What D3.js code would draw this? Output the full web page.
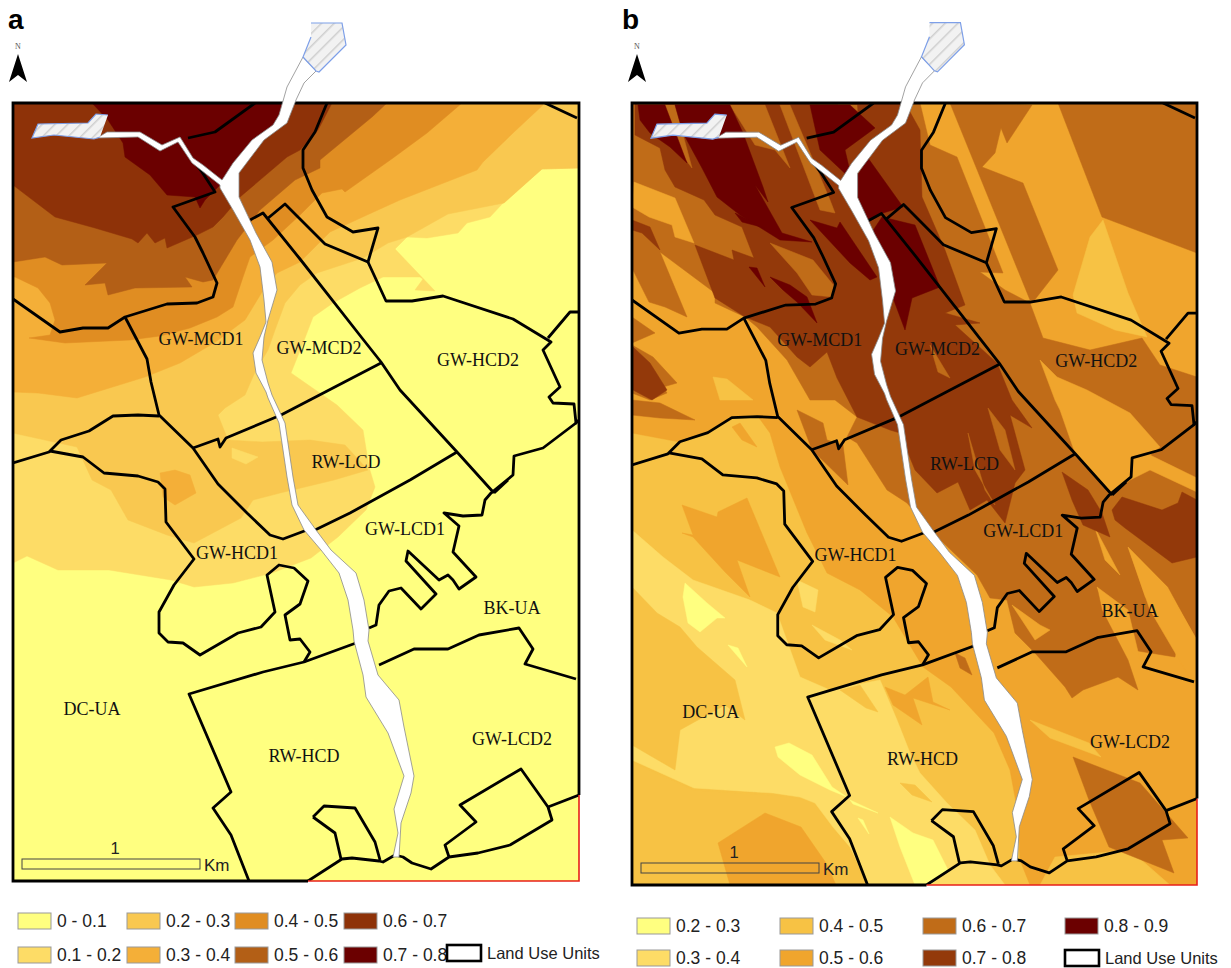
<!DOCTYPE html>
<html>
<head>
<meta charset="utf-8">
<script src="https://cdnjs.cloudflare.com/ajax/libs/d3/7.8.5/d3.min.js"></script>
<style>
  html, body { margin: 0; background: #fff; }
  .unit-label { font-family: "Liberation Serif", serif; font-size: 18px; fill: #111; text-anchor: middle; }
  .legend-text { font-family: "Liberation Sans", sans-serif; font-size: 17.5px; fill: #222; }
</style>
</head>
<body>
<div id="chart"></div>
<script>
// class labels, low to high
const classesA = ["0 - 0.1", "0.1 - 0.2", "0.2 - 0.3", "0.3 - 0.4", "0.4 - 0.5", "0.5 - 0.6", "0.6 - 0.7", "0.7 - 0.8"];
const coloursA = ["#ffff80", "#fddc66", "#f9c850", "#f4af38", "#e08d22", "#b35f16", "#8e3208", "#6b0000"];
const classesB = ["0.2 - 0.3", "0.3 - 0.4", "0.4 - 0.5", "0.5 - 0.6", "0.6 - 0.7", "0.7 - 0.8", "0.8 - 0.9"];
const coloursB = ["#ffff80", "#fddc66", "#f7c244", "#f0a52d", "#c06c18", "#93390a", "#6b0000"];

// map a: nested class areas, painted low to high
const bandsA = [
  ["0.1 - 0.2", [[579,168],[542,169],[504,202],[490,217],[467,223],[458,233],[427,238],[407,237],[395,249],[435,291],[415,290],[423,279],[420,277],[383,277],[360,288],[333,303],[313,317],[305,338],[291,373],[337,405],[363,430],[369,467],[375,487],[366,510],[338,537],[311,558],[272,573],[233,583],[194,587],[171,580],[109,570],[58,570],[27,556],[13,563],[13,103],[579,103]]],
  ["0.2 - 0.3", [[579,168],[542,169],[504,203],[448,214],[407,237],[388,243],[363,258],[317,273],[300,285],[285,303],[275,330],[268,350],[255,372],[245,395],[225,408],[218,415],[228,440],[262,442],[310,440],[345,445],[368,470],[334,480],[280,493],[253,500],[241,518],[194,543],[167,535],[128,520],[111,490],[92,480],[77,447],[13,433],[13,103],[579,103]]],
  ["0.1 - 0.2", [[232,448],[258,457],[246,464],[232,458]]],
  ["0.3 - 0.4", [[543,105],[513,133],[483,162],[477,170],[400,200],[367,215],[330,232],[300,262],[277,273],[262,292],[245,320],[214,343],[180,363],[145,377],[77,398],[38,393],[13,392],[13,103],[543,103]]],
  ["0.3 - 0.4", [[160,473],[175,470],[190,475],[196,493],[175,505],[163,497]]],
  ["0.4 - 0.5", [[462,103],[427,133],[393,158],[345,192],[342,189],[322,193],[300,215],[273,240],[250,257],[243,277],[233,307],[217,317],[190,328],[160,336],[130,340],[65,343],[29,338],[50,335],[55,320],[50,303],[38,288],[15,277],[13,277],[13,103]]],
  ["0.5 - 0.6", [[387,103],[372,117],[320,160],[320,168],[295,180],[260,210],[237,240],[213,280],[203,282],[185,277],[192,287],[135,288],[108,295],[105,283],[85,285],[107,263],[62,265],[45,257],[13,262],[13,103]]],
  ["0.6 - 0.7", [[332,103],[318,130],[300,150],[287,157],[240,197],[223,217],[213,227],[197,235],[167,248],[165,238],[155,243],[147,233],[138,243],[132,239],[95,228],[55,217],[13,185],[13,103]]],
  ["0.7 - 0.8", [[92,103],[108,120],[123,143],[125,157],[150,175],[167,195],[195,197],[200,208],[205,200],[220,185],[240,165],[275,125],[283,103]]]
];

// map b: same idea, but the classes overlap in long diagonal streaks
const bandsB = [
  ["0.4 - 0.5", [[632,103],[1197,103],[1197,885],[632,885]]],
  ["0.5 - 0.6", [[632,103],[1197,103],[1197,885],[1030,885],[1020,860],[1018,813],[1010,770],[994,733],[951,687],[923,667],[893,617],[860,590],[827,573],[807,533],[780,467],[770,433],[757,415],[730,417],[710,430],[680,442],[632,433]]],
  ["0.3 - 0.4", [[632,530],[663,557],[693,580],[750,600],[777,613],[800,677],[830,690],[880,680],[897,720],[910,753],[920,773],[947,803],[975,830],[990,865],[1005,885],[868,885],[850,847],[833,827],[815,803],[800,797],[773,793],[694,788],[632,760]]],
  ["0.4 - 0.5", [[632,587],[657,613],[680,627],[697,647],[735,680],[745,720],[725,705],[680,730],[675,770],[632,745]]],
  ["0.4 - 0.5", [[632,762],[694,790],[773,795],[800,799],[815,805],[833,829],[850,849],[866,885],[632,885]]],
  ["0.4 - 0.5", [[1055,857],[1130,850],[1170,885],[1040,885]]],
  ["0.4 - 0.5", [[1030,720],[1089,743],[1101,757],[1050,738]]],
  ["0.4 - 0.5", [[900,783],[915,785],[932,802],[912,795]]],
  ["0.4 - 0.5", [[840,690],[860,685],[878,712],[866,708]]],
  ["0.5 - 0.6", [[682,505],[717,517],[718,512],[747,498],[780,577],[737,560],[750,597],[725,572],[693,537],[682,533],[693,535]]],
  ["0.5 - 0.6", [[718,843],[765,813],[801,827],[826,863],[836,885],[730,885]]],
  ["0.5 - 0.6", [[885,687],[905,695],[928,677],[933,702],[950,710],[913,698],[922,725],[893,705]]],
  ["0.5 - 0.6", [[732,427],[740,423],[757,447],[742,440]]],
  ["0.3 - 0.4", [[797,580],[818,590],[815,612],[803,607]]],
  ["0.3 - 0.4", [[812,625],[840,640],[852,650],[825,640]]],
  ["0.2 - 0.3", [[685,583],[683,597],[688,623],[700,632],[717,618],[725,618],[707,603]]],
  ["0.2 - 0.3", [[728,645],[738,648],[747,667]]],
  ["0.2 - 0.3", [[775,747],[789,743],[812,755],[832,787],[847,797],[830,790],[800,775],[778,757]]],
  ["0.2 - 0.3", [[890,817],[913,833],[933,840],[948,870],[930,885],[915,885],[900,847]]],
  ["0.2 - 0.3", [[850,800],[878,813],[853,804]]],
  ["0.2 - 0.3", [[858,818],[863,820],[869,834]]],
  ["0.6 - 0.7", [[632,103],[920,103],[930,145],[957,157],[1003,273],[980,272],[1005,290],[1030,303],[1043,338],[1090,350],[1142,338],[1160,365],[1197,377],[1197,640],[1168,587],[1128,547],[1145,597],[1180,620],[1175,657],[1132,650],[1122,613],[1097,587],[1102,610],[1128,660],[1138,690],[1118,677],[1083,690],[1072,698],[1065,687],[1035,653],[1015,633],[1007,600],[990,598],[977,575],[932,532],[907,503],[887,490],[857,443],[847,437],[857,417],[835,400],[810,400],[787,360],[757,327],[745,317],[715,303],[715,293],[660,252],[687,317],[665,307],[649,302],[632,268]]],
  ["0.6 - 0.7", [[950,103],[1032,105],[1007,143],[1001,128],[995,153],[982,167],[1023,183],[1058,270],[1033,302],[1030,300]]],
  ["0.6 - 0.7", [[1058,103],[1197,103],[1197,253],[1102,217]]],
  ["0.6 - 0.7", [[632,317],[655,333],[632,343]]],
  ["0.6 - 0.7", [[632,345],[653,357],[677,383],[663,387],[667,393],[650,400],[632,393]]],
  ["0.6 - 0.7", [[632,400],[660,403],[695,420],[660,418],[632,415]]],
  ["0.6 - 0.7", [[797,410],[823,423],[827,440],[843,445],[848,485],[812,450]]],
  ["0.6 - 0.7", [[1073,757],[1140,783],[1188,838],[1162,840],[1174,873],[1109,847],[1089,800]]],
  ["0.6 - 0.7", [[955,653],[965,658],[972,675],[960,668]]],
  ["0.5 - 0.6", [[634,182],[675,198],[694,243],[675,237],[672,225],[649,217],[632,207]]],
  ["0.5 - 0.6", [[1040,360],[1057,377],[1087,390],[1130,413],[1160,447],[1150,455],[1197,478],[1197,492],[1150,470],[1130,480],[1112,493],[1075,453],[1060,410],[1055,400]]],
  ["0.5 - 0.6", [[1097,587],[1128,610],[1140,660],[1120,640]]],
  ["0.5 - 0.6", [[1128,547],[1165,585],[1197,640],[1197,690],[1150,610]]],
  ["0.5 - 0.6", [[1095,528],[1120,575],[1105,560]]],
  ["0.5 - 0.6", [[1012,605],[1040,625],[1050,630],[1035,640]]],
  ["0.4 - 0.5", [[1103,220],[1090,237],[1073,295],[1077,313],[1115,330],[1147,337],[1128,293]]],
  ["0.4 - 0.5", [[713,377],[727,379],[753,400],[720,400]]],
  ["0.7 - 0.8", [[635,103],[905,103],[920,130],[922,197],[945,250],[965,305],[945,313],[980,323],[955,325],[997,363],[1012,400],[1032,428],[1010,415],[1025,470],[1015,483],[1005,523],[987,500],[970,510],[958,482],[937,493],[915,470],[900,433],[890,430],[857,417],[837,378],[827,352],[810,367],[797,357],[770,327],[745,317],[715,298],[695,245],[734,260],[732,250],[754,258],[742,227],[715,215],[704,200],[675,187],[665,170],[660,148],[635,135]]],
  ["0.7 - 0.8", [[633,347],[650,363],[667,390],[652,400],[633,390]]],
  ["0.7 - 0.8", [[632,220],[650,227],[660,250],[642,233],[632,230]]],
  ["0.7 - 0.8", [[1062,472],[1088,490],[1102,513],[1110,537],[1083,525],[1072,500]]],
  ["0.7 - 0.8", [[1112,510],[1122,497],[1162,510],[1178,503],[1182,492],[1197,500],[1197,557],[1172,563],[1125,528],[1115,520]]],
  ["0.6 - 0.7", [[770,243],[813,260],[835,287],[833,297],[812,295],[797,273]]],
  ["0.6 - 0.7", [[665,105],[675,105],[692,168],[673,143]]],
  ["0.6 - 0.7", [[730,105],[765,105],[790,168],[775,150],[755,145]]],
  ["0.6 - 0.7", [[780,105],[790,105],[830,200],[835,213],[820,210]]],
  ["0.6 - 0.7", [[838,105],[857,105],[858,125]]],
  ["0.6 - 0.7", [[968,433],[985,490],[995,505],[975,470]]],
  ["0.6 - 0.7", [[988,408],[1005,430],[1015,470],[1000,450]]],
  ["0.6 - 0.7", [[930,345],[950,378],[938,372]]],
  ["0.8 - 0.9", [[638,105],[665,105],[687,163],[670,147],[650,133],[640,120]]],
  ["0.8 - 0.9", [[675,105],[730,105],[743,133],[763,187],[768,202],[755,185],[782,233],[812,242],[780,240],[740,215],[717,197],[702,168],[683,133]]],
  ["0.8 - 0.9", [[810,105],[850,105],[875,128],[845,150],[852,180],[820,150]]],
  ["0.8 - 0.9", [[868,158],[903,207],[883,213],[867,223],[853,183]]],
  ["0.8 - 0.9", [[882,217],[915,225],[940,287],[912,298],[905,330],[890,290],[875,250],[870,235]]],
  ["0.8 - 0.9", [[810,220],[837,228],[840,222],[877,277],[870,280],[850,263]]],
  ["0.8 - 0.9", [[749,267],[757,268],[765,287]]],
  ["0.8 - 0.9", [[770,277],[790,285],[807,297],[817,323],[797,302],[783,290]]],
  ["0.8 - 0.9", [[735,213],[765,228],[742,222]]]
];

// land use unit boundaries, in map a coordinates
const landLines = [
  [[13,299],[60,332],[83,328],[108,328],[125,317],[167,304],[197,303],[213,297],[217,283],[203,253],[195,237],[173,207],[215,192],[202,172],[195,163]],
  [[188,138],[215,132],[255,103]],
  [[327,103],[315,132],[303,150],[303,168],[312,190],[327,217],[353,232],[378,228],[368,262],[325,244],[300,219],[285,204],[267,219]],
  [[250,220],[263,213],[300,259],[362,338],[381,362],[400,390],[457,452],[494,493]],
  [[281,415],[381,363]],
  [[281,415],[226,438],[220,447],[218,439],[193,448]],
  [[125,317],[147,359],[151,382],[159,415],[193,448],[218,484],[247,513],[270,535],[283,539],[307,530]],
  [[315,530],[350,513],[410,480],[457,452]],
  [[13,463],[49,452],[61,440],[89,431],[113,416],[138,415],[159,416]],
  [[50,451],[83,457],[104,473],[138,476],[158,482],[165,489],[166,522],[194,559],[174,585],[159,612],[159,633],[168,642],[183,643],[200,655],[238,633],[261,627],[275,612],[267,575],[279,565],[294,568],[308,581],[300,604],[285,615],[290,640],[300,639],[310,652],[304,662]],
  [[356,643],[304,662],[263,672],[189,694],[231,792],[213,808],[231,835],[249,881]],
  [[308,881],[342,859],[352,858],[379,861],[383,862],[395,855],[403,857],[412,863],[431,869],[449,857],[445,845],[476,822],[460,805],[521,769],[548,807],[552,820],[510,845],[478,853],[449,857]],
  [[548,807],[579,795]],
  [[313,817],[324,806],[355,808],[375,842],[380,860]],
  [[313,817],[335,833],[341,859]],
  [[379,665],[414,649],[448,649],[479,635],[519,628],[533,649],[525,664],[576,679]],
  [[369,628],[376,625],[379,605],[389,591],[401,588],[421,609],[436,594],[406,561],[408,551],[439,580],[448,575],[453,580],[459,589],[476,577],[453,552],[459,526],[444,513],[463,516],[482,515],[485,500],[491,493],[513,475],[514,456],[543,448],[576,423]],
  [[368,262],[386,301],[412,301],[443,296],[513,319],[551,342],[543,350],[560,387],[549,397],[553,403],[574,404],[576,423],[579,420]],
  [[548,338],[570,312],[579,312]],
  [[545,103],[577,118]],
  [[508,480],[494,493]]
];

const riverBank = [[303,57],[287,87],[279,115],[273,125],[252,140],[233,163],[224,177],[222,180],[203,165],[193,158],[180,137],[162,145],[140,132],[107,132],[97,138],[138,137],[160,151],[178,142],[192,163],[220,185],[220,188],[233,210],[250,240],[260,267],[264,300],[266,322],[260,337],[253,353],[256,373],[266,392],[268,398],[279,423],[287,477],[292,505],[304,530],[321,550],[339,573],[348,600],[353,630],[354,641],[363,675],[366,697],[388,733],[404,776],[394,809],[398,833],[393,857],[399,857],[401,823],[411,793],[414,776],[404,727],[399,700],[378,675],[368,641],[369,630],[364,600],[356,573],[331,550],[316,530],[298,505],[293,477],[285,423],[272,395],[268,383],[262,360],[264,337],[268,320],[277,290],[272,262],[256,233],[239,197],[239,173],[264,140],[287,123],[296,100],[304,83],[316,71]];
const lakeNorth = [[311,23],[342,23],[346,45],[319,72],[316,71],[303,57],[311,37]];
const lakeWest = [[108,115],[96,114],[88,123],[38,124],[32,138],[54,135],[94,139],[100,137]];

const unitNames = ["GW-MCD1", "GW-MCD2", "GW-HCD2", "RW-LCD", "GW-LCD1", "GW-HCD1", "BK-UA", "DC-UA", "RW-HCD", "GW-LCD2"];
const unitX = [201, 319, 478, 346, 405, 237, 512, 92, 304, 512];
const unitY = [345, 354, 366, 468, 535, 559, 614, 715, 762, 745];

const width = 1231, height = 968;
const svg = d3.select("#chart").append("svg").attr("width", width).attr("height", height);

const defs = svg.append("defs");
const hatch = defs.append("pattern").attr("id", "hatch").attr("patternUnits", "userSpaceOnUse")
    .attr("width", 9).attr("height", 9).attr("patternTransform", "rotate(45)");
hatch.append("rect").attr("width", 9).attr("height", 9).attr("fill", "#f2f2f2");
hatch.append("line").attr("x1", 0).attr("x2", 0).attr("y1", 0).attr("y2", 9).attr("stroke", "#cfcfcf").attr("stroke-width", 3);

function drawMap(cfg) {
  const g = svg.append("g");
  // land units and river are stored in map a coordinates
  const x = d3.scaleLinear().domain([13, 579]).range(cfg.xRange);
  const y = d3.scaleLinear().domain([103, 881]).range(cfg.yRange);
  // class areas are stored in the panel's own coordinates
  const bx = d3.scaleLinear().domain(cfg.bandDomainX).range(cfg.xRange);
  const by = d3.scaleLinear().domain(cfg.bandDomainY).range(cfg.yRange);
  const colour = d3.scaleOrdinal().domain(cfg.classes).range(cfg.colours);
  const line = d3.line().x(d => x(d[0])).y(d => y(d[1]));
  const bandLine = d3.line().x(d => bx(d[0])).y(d => by(d[1]));

  const clipId = "clip-" + cfg.id;
  defs.append("clipPath").attr("id", clipId).append("rect")
      .attr("x", x(13)).attr("y", y(103)).attr("width", x(579) - x(13)).attr("height", y(881) - y(103));

  const mapG = g.append("g").attr("clip-path", `url(#${clipId})`);
  mapG.append("rect").attr("x", x(13)).attr("y", y(103)).attr("width", x(579) - x(13)).attr("height", y(881) - y(103))
      .attr("fill", cfg.colours[0]);

  mapG.selectAll(".band").data(cfg.bands).join("path")
      .attr("class", "band")
      .attr("d", d => bandLine(d[1]) + "Z")
      .attr("fill", d => colour(d[0]))
      .attr("stroke", d => colour(d[0]))
      .attr("stroke-width", 0.5);

  // land use units first, river goes on top
  mapG.selectAll(".unit").data(landLines).join("path")
      .attr("class", "unit")
      .attr("d", line)
      .attr("fill", "none")
      .attr("stroke", "#000")
      .attr("stroke-width", 2.8)
      .attr("stroke-linejoin", "round");

  // frame
  const right = x(579), left = x(13), top = y(103), bottom = y(881);
  g.append("path").attr("d", `M${x(308)},${bottom}H${right}V${y(795)}`)
      .attr("fill", "none").attr("stroke", "#e8201a").attr("stroke-width", 1.6);
  g.append("path").attr("d", `M${x(308)},${bottom}H${left}V${top}H${right}V${y(795)}`)
      .attr("fill", "none").attr("stroke", "#000").attr("stroke-width", 2.8);

  g.append("path").attr("d", line(riverBank) + "Z")
      .attr("fill", "#fff").attr("stroke", "#8a8a8a").attr("stroke-width", 0.8);

  [lakeNorth, lakeWest].forEach(lake => {
    g.append("path").attr("d", line(lake) + "Z").attr("fill", "url(#hatch)");
    g.append("path").attr("d", line(lake)).attr("fill", "none").attr("stroke", "#7d9fe8").attr("stroke-width", 1.2);
  });

  // unit names
  g.selectAll(".unit-label").data(unitNames).join("text")
      .attr("class", "unit-label")
      .attr("x", (d, i) => x(unitX[i]))
      .attr("y", (d, i) => y(unitY[i]))
      .text(d => d);

  // panel letter and north arrow
  g.append("text").attr("x", cfg.letterX).attr("y", 29)
      .attr("font-family", "Liberation Sans, sans-serif").attr("font-weight", "bold").attr("font-size", 28)
      .text(cfg.id);
  g.append("text").attr("x", cfg.northX).attr("y", 49).attr("text-anchor", "middle")
      .attr("font-family", "Liberation Serif, serif").attr("font-size", 8).attr("fill", "#555").text("N");
  g.append("path").attr("fill", "#000")
      .attr("d", d3.line()([[cfg.northX, 54], [cfg.northX + 9, 82], [cfg.northX, 75], [cfg.northX - 9, 82]]) + "Z");

  // scale bar
  const bar = cfg.bar;
  g.append("rect").attr("x", bar.x).attr("y", bar.y).attr("width", bar.w).attr("height", 10)
      .attr("fill", "none").attr("stroke", "#444").attr("stroke-width", 1);
  g.append("text").attr("class", "legend-text").attr("x", bar.x + bar.w / 2 + 4).attr("y", bar.y - 5)
      .attr("text-anchor", "middle").style("font-size", "16.5px").text("1");
  g.append("text").attr("class", "legend-text").attr("x", bar.x + bar.w + 4).attr("y", bar.y + 12).style("font-size", "17px").text("Km");

  // legend
  const leg = cfg.legend;
  const items = g.selectAll(".leg").data(cfg.classes).join("g").attr("class", "leg")
      .attr("transform", (d, i) => `translate(${leg.cols[Math.floor(i / 2)]},${leg.rows[i % 2]})`);
  items.append("rect").attr("width", 33).attr("height", 16)
      .attr("fill", d => colour(d)).attr("stroke", "#999").attr("stroke-width", 1);
  items.append("text").attr("class", "legend-text").attr("x", 39).attr("y", 14).text(d => d);

  g.append("rect").attr("x", leg.unitX).attr("y", leg.unitY).attr("width", 34).attr("height", 16)
      .attr("fill", "#fff").attr("stroke", "#000").attr("stroke-width", 2.6);
  g.append("text").attr("class", "legend-text").attr("x", leg.unitX + 40).attr("y", leg.unitY + 13.5)
      .style("font-size", "16.5px").text("Land Use Units");
}

drawMap({
  id: "a", classes: classesA, colours: coloursA, bands: bandsA,
  xRange: [13, 579], yRange: [103, 881], bandDomainX: [13, 579], bandDomainY: [103, 881],
  letterX: 8, northX: 18,
  bar: {x: 22, y: 859, w: 178},
  legend: {cols: [18, 127, 235, 344], rows: [913, 947], unitX: 447, unitY: 945}
});

drawMap({
  id: "b", classes: classesB, colours: coloursB, bands: bandsB,
  xRange: [632, 1197], yRange: [103, 885], bandDomainX: [632, 1197], bandDomainY: [103, 885],
  letterX: 622, northX: 637,
  bar: {x: 641, y: 863, w: 178},
  legend: {cols: [637, 780, 923, 1065], rows: [918, 950], unitX: 1065, unitY: 950}
});
</script>
</body>
</html>
